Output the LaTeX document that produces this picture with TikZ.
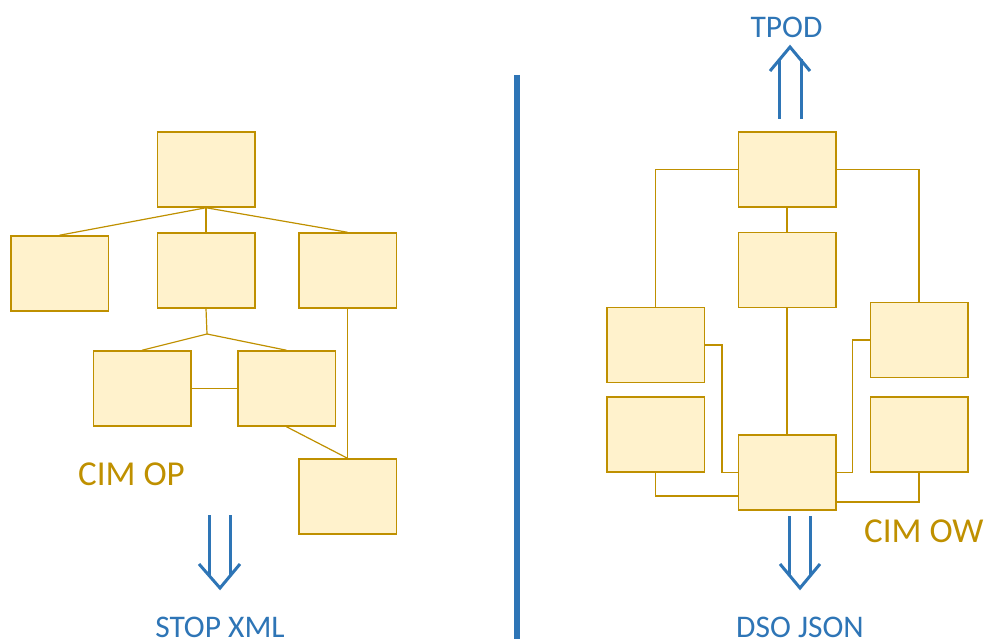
\documentclass[tikz,border=0pt]{standalone}
\usepackage{fontspec}
\setmainfont{Carlito}
\usetikzlibrary{calc}
\definecolor{gold}{HTML}{BF9000}
\definecolor{boxfill}{HTML}{FFF2CC}
\definecolor{myblue}{HTML}{2E75B6}
\begin{document}
\begin{tikzpicture}[x=1pt,y=-1pt,
  box/.style={draw=gold, fill=boxfill, line width=1.5pt, inner sep=0pt, minimum width=97.5pt, minimum height=75pt},
  link/.style={draw=gold, line width=1.2pt},
  bluearrow/.style={draw=myblue, line width=3pt},
  bluelabel/.style={text=myblue, inner sep=0pt, anchor=base, font=\fontsize{31.5}{36}\selectfont},
  cimlabel/.style={text=gold, inner sep=0pt, anchor=base west, font=\fontsize{35}{40}\selectfont}]
\useasboundingbox (0,0) rectangle (990,639);

% divider
\draw[draw=myblue, line width=6pt] (516.5,75) coordinate (dtop) -- (516.5,639) coordinate (dbot);

% left tree
\node[box] (L1) at (206,169.5) {};
\node[box] (L2) at (59.5,273.5) {};
\node[box] (L3) at (206,270.5) {};
\node[box] (L4) at (347.5,270.5) {};
\node[box] (L5) at (142,388.5) {};
\node[box] (L6) at (286.5,388.5) {};
\node[box] (L7) at (347.5,496.5) {};
\coordinate (J) at (207,334);
\draw[link] (L1.south) -- (L2.north);
\draw[link] (L1.south) -- (L3.north);
\draw[link] (L1.south) -- (L4.north);
\draw[link] (L3.south) -- (J);
\draw[link] (J) -- (L5.north);
\draw[link] (J) -- (L6.north);
\draw[link] (L5.east) -- (L6.west);
\draw[link] (L6.south) -- (L7.north);
\draw[link] (L4.south) -- (L7.north);

% right graph
\node[box] (R1) at (787,169.5) {};
\node[box] (R2) at (787,270) {};
\node[box] (R3) at (655.5,345) {};
\node[box] (R4) at (655.5,434.5) {};
\node[box] (R5) at (919,340) {};
\node[box] (R6) at (919,434.5) {};
\node[box] (R7) at (787,472.5) {};
\draw[link] (R1.west) -| (R3.north);
\draw[link] (R1.east) -| (R5.north);
\draw[link] (R1.south) -- (R2.north);
\draw[link] (R2.south) -- (R7.north);
\draw[link] (R3.east) -- ++(17,0) |- (R7.west);
\draw[link] (R4.south) |- ([yshift=-23.5pt]R7.west);
\draw[link] (R5.west) -- ++(-17,0) |- (R7.east);
\draw[link] (R6.south) |- ([yshift=-29.5pt]R7.east);

% labels
\node[cimlabel] (cimop) at (78,485) {CIM OP};
\node[cimlabel] (cimow) at (864,542) {CIM OW};
\node[bluelabel] (tpod) at (786.5,38) {TPOD};
\node[bluelabel] (stop) at (220,637) {STOP XML};
\node[bluelabel] (dso) at (800,637) {DSO JSON};

% left double arrow (down)
\draw[bluearrow] (209,515) -- (209,576);
\draw[bluearrow] (230,515) -- (230,576);
\draw[bluearrow, line join=miter] (199,564) -- (220,588) -- (240,564);

% right double arrow (down)
\draw[bluearrow] (789,516) -- (789,576);
\draw[bluearrow] (810,516) -- (810,576);
\draw[bluearrow, line join=miter] (780,564) -- (800,588) -- (820,564);

% top double arrow (up)
\draw[bluearrow] (779,119) -- (779,59);
\draw[bluearrow] (801,119) -- (801,59);
\draw[bluearrow, line join=miter] (770,71) -- (790,47) -- (810,71);
\end{tikzpicture}
\end{document}
